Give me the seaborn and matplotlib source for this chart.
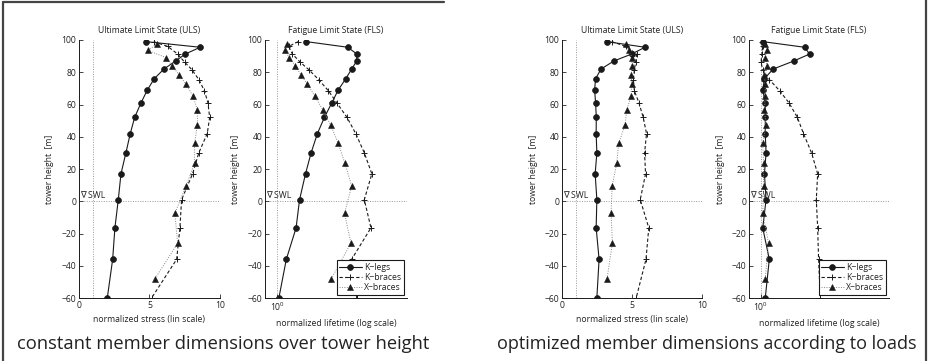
import matplotlib
matplotlib.use("Agg")
import matplotlib.pyplot as plt
import matplotlib.ticker as mticker
from matplotlib.lines import Line2D
import matplotlib.transforms as mtransforms
import numpy as np
import seaborn as sns

sns.set_theme(style="white")
plt.rcParams["font.family"] = ["Open Sans", "DejaVu Sans"]
plt.rcParams["mathtext.default"] = "regular"
plt.rcParams["axes.unicode_minus"] = True

# heights of the members [m]
H_LEGS = [99, 95.5, 91.3, 87, 82, 76, 69, 61, 52, 42, 30, 17, 1, -16.5, -36, -60]
H_KBR = [99, 96, 91.3, 86.2, 81.7, 75.5, 68.5, 61, 52, 42, 30, 17, 1, -16.5, -36, -60]
H_XBR = [97.5, 93.5, 89, 84, 78.5, 72.5, 65, 56.5, 47, 36, 23.5, 9.5, -7.5, -26, -48]

# constant member dimensions
ULS_CONST_LEGS = [4.73, 8.6, 7.54, 6.86, 6.03, 5.34, 4.85, 4.40, 3.95, 3.64, 3.33, 2.98, 2.79, 2.55, 2.39, 2.01]
ULS_CONST_KBR = [5.3, 6.3, 7.0, 7.5, 8.0, 8.5, 8.9, 9.15, 9.27, 9.1, 8.5, 8.06, 7.28, 7.16, 6.93, 5.15]
ULS_CONST_XBR = [5.5, 4.9, 6.2, 6.6, 7.1, 7.6, 8.1, 8.4, 8.4, 8.2, 8.2, 7.6, 6.8, 7.0, 5.4]
FLS_CONST_LEGS = [1.39, 2.23, 2.47, 2.47, 2.33, 2.18, 2.00, 1.86, 1.71, 1.58, 1.47, 1.38, 1.29, 1.24, 1.11, 1.02]
FLS_CONST_KBR = [1.27, 1.14, 1.19, 1.30, 1.43, 1.60, 1.79, 1.97, 2.21, 2.44, 2.69, 2.93, 2.69, 2.90, 2.33, 2.47]
FLS_CONST_XBR = [1.12, 1.09, 1.15, 1.23, 1.31, 1.41, 1.54, 1.68, 1.84, 2.00, 2.16, 2.33, 2.15, 2.31, 1.85]

# optimized member dimensions
ULS_OPT_LEGS = [3.19, 5.93, 4.98, 3.71, 2.79, 2.40, 2.33, 2.40, 2.45, 2.44, 2.49, 2.37, 2.49, 2.44, 2.65, 2.49]
ULS_OPT_KBR = [3.55, 4.57, 5.33, 5.26, 5.17, 5.10, 5.17, 5.50, 5.80, 6.04, 5.90, 5.97, 5.59, 6.20, 6.00, 5.30]
ULS_OPT_XBR = [4.55, 4.80, 5.00, 5.00, 4.93, 4.98, 4.93, 4.62, 4.50, 4.05, 3.91, 3.58, 3.51, 3.60, 3.22]
FLS_OPT_LEGS = [1.02, 1.65, 1.75, 1.46, 1.15, 1.04, 1.02, 1.05, 1.05, 1.05, 1.06, 1.04, 1.06, 1.02, 1.10, 1.05]
FLS_OPT_KBR = [1.01, 1.02, 1.01, 1.00, 1.02, 1.10, 1.24, 1.38, 1.52, 1.63, 1.79, 1.92, 1.89, 1.92, 1.94, 1.98]
FLS_OPT_XBR = [1.05, 1.07, 1.05, 1.07, 1.04, 1.05, 1.05, 1.04, 1.06, 1.02, 1.03, 1.03, 1.02, 1.09, 1.05]

LABELS = ["K\u2212legs", "K\u2212braces", "X\u2212braces"]
CAPTIONS = ["constant member dimensions over tower height",
            "optimized member dimensions according to loads"]

TXT = "#222222"
FS = 6.2


def draw_panel(ax, legs, kbr, xbr, log=False, legend=False):
    sns.lineplot(x=legs, y=H_LEGS, sort=False, estimator=None, ax=ax, color="k",
                 linewidth=0.8, marker="o", markersize=4.2,
                 markeredgecolor="k", markeredgewidth=0.5, label=LABELS[0])
    sns.lineplot(x=kbr, y=H_KBR, sort=False, estimator=None, ax=ax, color="k",
                 linewidth=0.8, linestyle=(0, (3, 2)), marker="+", markersize=4.5,
                 markeredgecolor="k", markeredgewidth=0.7, label=LABELS[1])
    sns.lineplot(x=xbr, y=H_XBR, sort=False, estimator=None, ax=ax, color="#888888",
                 linewidth=0.7, linestyle=(0, (1, 1.5)), marker="^", markersize=4.2,
                 markerfacecolor="k", markeredgecolor="k", markeredgewidth=0.4,
                 label=LABELS[2])

    ax.axhline(0, color="#999999", lw=0.7, ls=(0, (1, 1.5)), zorder=0)
    ax.axvline(1, color="#999999", lw=0.7, ls=(0, (1, 1.5)), zorder=0)

    ax.set_ylim(-60, 100)
    ax.set_yticks(np.arange(-60, 101, 20))
    if log:
        ax.set_xscale("log")
        ax.set_xlim(10 ** -0.06, 10 ** 0.64)
        ax.xaxis.set_major_locator(mticker.FixedLocator([1]))
        ax.xaxis.set_major_formatter(mticker.FixedFormatter(["10$^0$"]))
        ax.xaxis.set_minor_locator(mticker.NullLocator())
        ax.set_xlabel("normalized lifetime (log scale)", fontsize=FS, color=TXT, labelpad=4)
        ax.set_title("Fatigue Limit State (FLS)", fontsize=FS, color=TXT, pad=5)
    else:
        ax.set_xlim(0, 10)
        ax.set_xticks([0, 5, 10])
        ax.set_xlabel("normalized stress (lin scale)", fontsize=FS, color=TXT, labelpad=4)
        ax.set_title("Ultimate Limit State (ULS)", fontsize=FS, color=TXT, pad=5)
    ax.set_ylabel("tower height  [m]", fontsize=FS, color=TXT, labelpad=5)

    sns.despine(ax=ax)
    for side in ["left", "bottom"]:
        ax.spines[side].set_color("k")
        ax.spines[side].set_linewidth(0.7)
    ax.tick_params(direction="in", length=3, width=0.6, labelsize=FS,
                   labelcolor=TXT, pad=2, left=True, bottom=True)

    trans = mtransforms.blended_transform_factory(ax.transAxes, ax.transData)
    ax.text(0.005, 0.5, "\u2207 SWL", transform=trans, fontsize=FS, color=TXT,
            ha="left", va="bottom")

    if legend:
        leg = ax.legend(loc="lower right", fontsize=FS, frameon=True, fancybox=False,
                        framealpha=1, borderpad=0.3, labelspacing=0.15,
                        handlelength=2.6, handletextpad=0.3, borderaxespad=0.35,
                        numpoints=1)
        leg.get_frame().set_edgecolor("k")
        leg.get_frame().set_linewidth(0.8)
        for t in leg.get_texts():
            t.set_color(TXT)
    elif ax.get_legend() is not None:
        ax.get_legend().remove()


fig = plt.figure(figsize=(9.3, 3.61), dpi=100)
bottom, height = 0.1745, 0.7147
ax1 = fig.add_axes([0.0849, bottom, 0.1516, height])
ax2 = fig.add_axes([0.2849, bottom, 0.1527, height])
ax3 = fig.add_axes([0.6043, bottom, 0.1505, height])
ax4 = fig.add_axes([0.8054, bottom, 0.1505, height])

draw_panel(ax1, ULS_CONST_LEGS, ULS_CONST_KBR, ULS_CONST_XBR)
draw_panel(ax2, FLS_CONST_LEGS, FLS_CONST_KBR, FLS_CONST_XBR, log=True, legend=True)
draw_panel(ax3, ULS_OPT_LEGS, ULS_OPT_KBR, ULS_OPT_XBR)
draw_panel(ax4, FLS_OPT_LEGS, FLS_OPT_KBR, FLS_OPT_XBR, log=True, legend=True)

fig.text(0.2395, 0.047, CAPTIONS[0], fontsize=13.2, color=TXT, ha="center", va="center")
fig.text(0.760, 0.047, CAPTIONS[1], fontsize=13.0, color=TXT, ha="center", va="center")

# frames of the two sub figures
frame_kw = dict(color="#444444", linewidth=1.6, transform=fig.transFigure)
fig.add_artist(Line2D([0.0032, 0.4774], [0.9945, 0.9945], **frame_kw))
fig.add_artist(Line2D([0.0032, 0.0032], [0.0, 0.9945], **frame_kw))
fig.add_artist(Line2D([0.9957, 0.9957], [0.0, 1.0], **frame_kw))

fig.savefig("out.png", dpi=100)
